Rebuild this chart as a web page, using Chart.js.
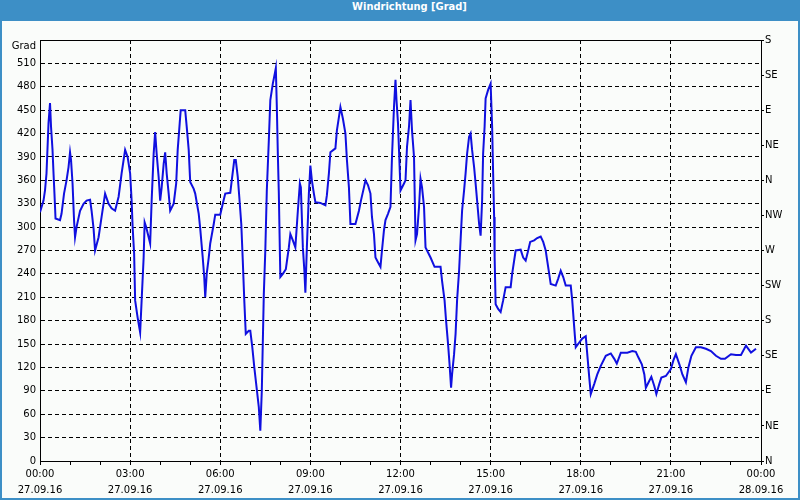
<!DOCTYPE html>
<html>
<head>
<meta charset="utf-8">
<script src="https://cdn.jsdelivr.net/npm/chart.js@4/dist/chart.umd.min.js"></script>
<style>
  html, body { margin: 0; padding: 0; }
  body { width: 800px; height: 500px; background: #3d8fc6; position: relative; overflow: hidden; }
  #title {
    position: absolute; left: 0; top: 0; width: 800px; height: 21px;
    box-sizing: border-box; padding-left: 19px;
    color: #fff; text-align: center; line-height: 22px;
    font: bold 11px "DejaVu Sans Condensed", "DejaVu Sans", sans-serif;
  }
  #panel { position: absolute; left: 2px; top: 21px; width: 796px; height: 477px; background: #fafcfa; }
  canvas { display: block; }
</style>
</head>
<body>
<div id="title">Windrichtung [Grad]</div>
<div id="panel"><canvas id="windChart" width="796" height="477"></canvas></div>
<script>
// minutes since 27.09.16 00:00
let minutes = [0, 7, 10, 13, 17, 20, 22, 25, 27, 29, 31, 40, 43, 48, 53, 57, 60, 62, 65, 68, 70, 73, 80, 87, 93, 100, 103, 107, 110, 117, 123, 130, 137, 143, 150, 157, 163, 170, 175, 180, 183, 185, 188, 190, 195, 200, 203, 207, 209, 212, 217, 220, 223, 227, 230, 233, 237, 240, 243, 247, 250, 253, 257, 260, 267, 272, 275, 279, 281, 290, 293, 297, 300, 307, 310, 317, 320, 325, 328, 330, 333, 337, 340, 347, 350, 360, 365, 370, 380, 383, 388, 391, 395, 398, 402, 405, 408, 411, 417, 420, 424, 428, 433, 437, 440, 443, 447, 450, 453, 457, 460, 465, 469, 471, 473, 475, 477, 480, 485, 491, 497, 500,
  505, 510, 515, 519, 521, 525, 528, 530, 533, 537, 540, 543, 547, 550, 560, 570, 573, 577, 580, 590, 593, 597, 600, 605, 610, 613, 617, 620, 630, 637, 641, 647, 650, 655, 660, 663, 667, 670, 675, 680, 683, 687, 690, 695, 700, 703, 707, 710, 712, 715, 717, 720, 727, 730, 733, 737, 740, 743, 747, 750, 753, 757, 760, 763, 767, 770, 780, 788, 800, 803, 808, 811, 815, 818, 821, 823, 827, 830, 833, 837, 840, 843, 847, 850, 853, 857, 860, 863, 867, 870, 873, 877, 880, 883, 885, 888, 890, 895, 900, 903, 905, 907, 908, 910, 915, 920, 925, 930, 940, 943, 950, 960, 965, 970, 975, 979, 987, 993, 1000, 1005, 1010, 1013, 1017, 1020,
  1030, 1035, 1040, 1045, 1050, 1060, 1063, 1067, 1070, 1077, 1083, 1090, 1093, 1097, 1100, 1107, 1113, 1120, 1130, 1140, 1147, 1152, 1160, 1173, 1183, 1190, 1195, 1202, 1207, 1210, 1217, 1221, 1227, 1231, 1237, 1241, 1250, 1260, 1265, 1270, 1277, 1283, 1290, 1295, 1301, 1310, 1320, 1330, 1340, 1350, 1360, 1368, 1380, 1390, 1400, 1410, 1420, 1430];

let degrees = [319, 334, 347, 369, 433, 459, 429, 399, 369, 341, 311, 309, 317, 343, 360, 377, 396, 386, 356, 309, 287, 300, 321, 330, 334, 335, 321, 298, 270, 287, 313, 343, 330, 324, 321, 339, 369, 399, 390, 369, 334, 300, 266, 206, 184, 165, 206, 261, 306, 300, 287, 279, 334, 394, 422, 394, 364, 334, 351, 381, 396, 369, 343, 321, 330, 356, 399, 433, 450, 450, 429, 399, 358, 349, 343, 317, 298, 261, 236, 210, 240, 261, 279, 304, 316, 316, 330, 343, 344, 360, 386, 386, 364, 339, 304, 257, 206, 163, 167, 167, 146, 120, 92, 69, 39, 90, 214, 270, 347, 411, 463, 484, 497, 504, 454, 394, 343, 236, 240, 246, 274, 291,
  283, 274, 321, 356, 351, 274, 244, 216, 274, 343, 379, 360, 343, 332, 331, 328, 341, 369, 396, 401, 424, 441, 454, 439, 420, 386, 351, 304, 304, 321, 334, 351, 360, 354, 343, 313, 291, 261, 255, 249, 270, 296, 309, 317, 326, 390, 454, 489, 463, 433, 399, 347, 356, 360, 403, 429, 463, 424, 390, 283, 291, 326, 362, 351, 326, 274, 261, 249, 249, 231, 206, 180, 150, 124, 94, 111, 137, 163, 206, 244, 283, 321, 347, 369, 394, 416, 420, 399, 377, 356, 334, 304, 289, 334, 394, 429, 465, 476, 484, 429, 369, 313, 261, 201, 195, 191, 206, 223, 223, 240, 270, 271, 261, 257, 270, 281, 283, 286, 288, 281, 270, 257, 240, 227,
  225, 234, 244, 236, 225, 225, 206, 171, 146, 152, 157, 160, 137, 107, 86, 99, 111, 122, 135, 138, 131, 125, 139, 139, 141, 140, 133, 124, 111, 94, 103, 108, 96, 86, 99, 107, 109, 118, 129, 137, 124, 111, 101, 120, 135, 146, 146, 144, 141, 135, 131, 131, 137, 136, 136, 148, 139, 144];

let compassLabels = ["N", "NE", "E", "SE", "S", "SW", "W", "NW", "N", "NE", "E", "SE", "S"];
let startDay = 27;

function pad2(n) {
    return (n < 10 ? "0" : "") + n;
}

function timeLabel(value) {
    if (value % 180 !== 0) return "";
    let day = startDay + Math.floor(value / 1440);
    let hour = (value / 60) % 24;
    return [pad2(hour) + ":00", day + ".09.16"];
}

let tickFont = { family: "DejaVu Sans", size: 10 };

let ctx = document.getElementById("windChart").getContext("2d");

let windChart = new Chart(ctx, {
    type: "line",
    data: {
        datasets: [{
            data: minutes.map((m, i) => ({ x: m, y: degrees[i] })),
            borderColor: "#1010e0",
            borderWidth: 2,
            pointRadius: 0,
            tension: 0,
            fill: false
        }]
    },
    options: {
        responsive: false,
        animation: false,
        layout: { padding: 0 },
        plugins: {
            legend: { display: false },
            tooltip: { enabled: false }
        },
        scales: {
            x: {
                type: "linear",
                position: "bottom",
                min: 0,
                max: 1440,
                afterFit: (scale) => { scale.height = 37; },
                ticks: {
                    stepSize: 60,
                    autoSkip: false,
                    maxRotation: 0,
                    padding: 2,
                    color: "#000",
                    font: { family: "DejaVu Sans", size: 10, lineHeight: 1.55 },
                    callback: (value) => timeLabel(value)
                },
                grid: {
                    color: (c) => (c.tick && c.tick.value % 180 === 0) ? "#000" : "rgba(0,0,0,0)",
                    tickColor: "#000",
                    tickLength: 4,
                    lineWidth: 1
                },
                border: { display: true, color: "#000", width: 1, dash: [4, 3] }
            },
            xTop: {
                type: "linear",
                position: "top",
                min: 0,
                max: 1440,
                afterFit: (scale) => { scale.height = 19; },
                ticks: { display: false },
                grid: { drawOnChartArea: false, drawTicks: false },
                border: { display: true, color: "#000", width: 1 }
            },
            y: {
                position: "left",
                min: 0,
                max: 540,
                afterFit: (scale) => { scale.width = 38; },
                ticks: {
                    stepSize: 30,
                    autoSkip: false,
                    padding: 4,
                    color: "#000",
                    font: tickFont,
                    callback: (value) => value === 540 ? ["", "Grad"] : String(value)
                },
                grid: { color: "#000", lineWidth: 1, drawTicks: false },
                border: { display: true, color: "#000", width: 1, dash: [4, 3] }
            },
            yCompass: {
                position: "right",
                min: 0,
                max: 540,
                afterFit: (scale) => { scale.width = 37; },
                ticks: {
                    stepSize: 45,
                    autoSkip: false,
                    padding: 1,
                    color: "#000",
                    font: tickFont,
                    callback: (value) => compassLabels[Math.round(value / 45)]
                },
                grid: { drawOnChartArea: false, tickColor: "#000", tickLength: 3 },
                border: { display: true, color: "#000", width: 1 }
            }
        }
    }
});
</script>
</body>
</html>
